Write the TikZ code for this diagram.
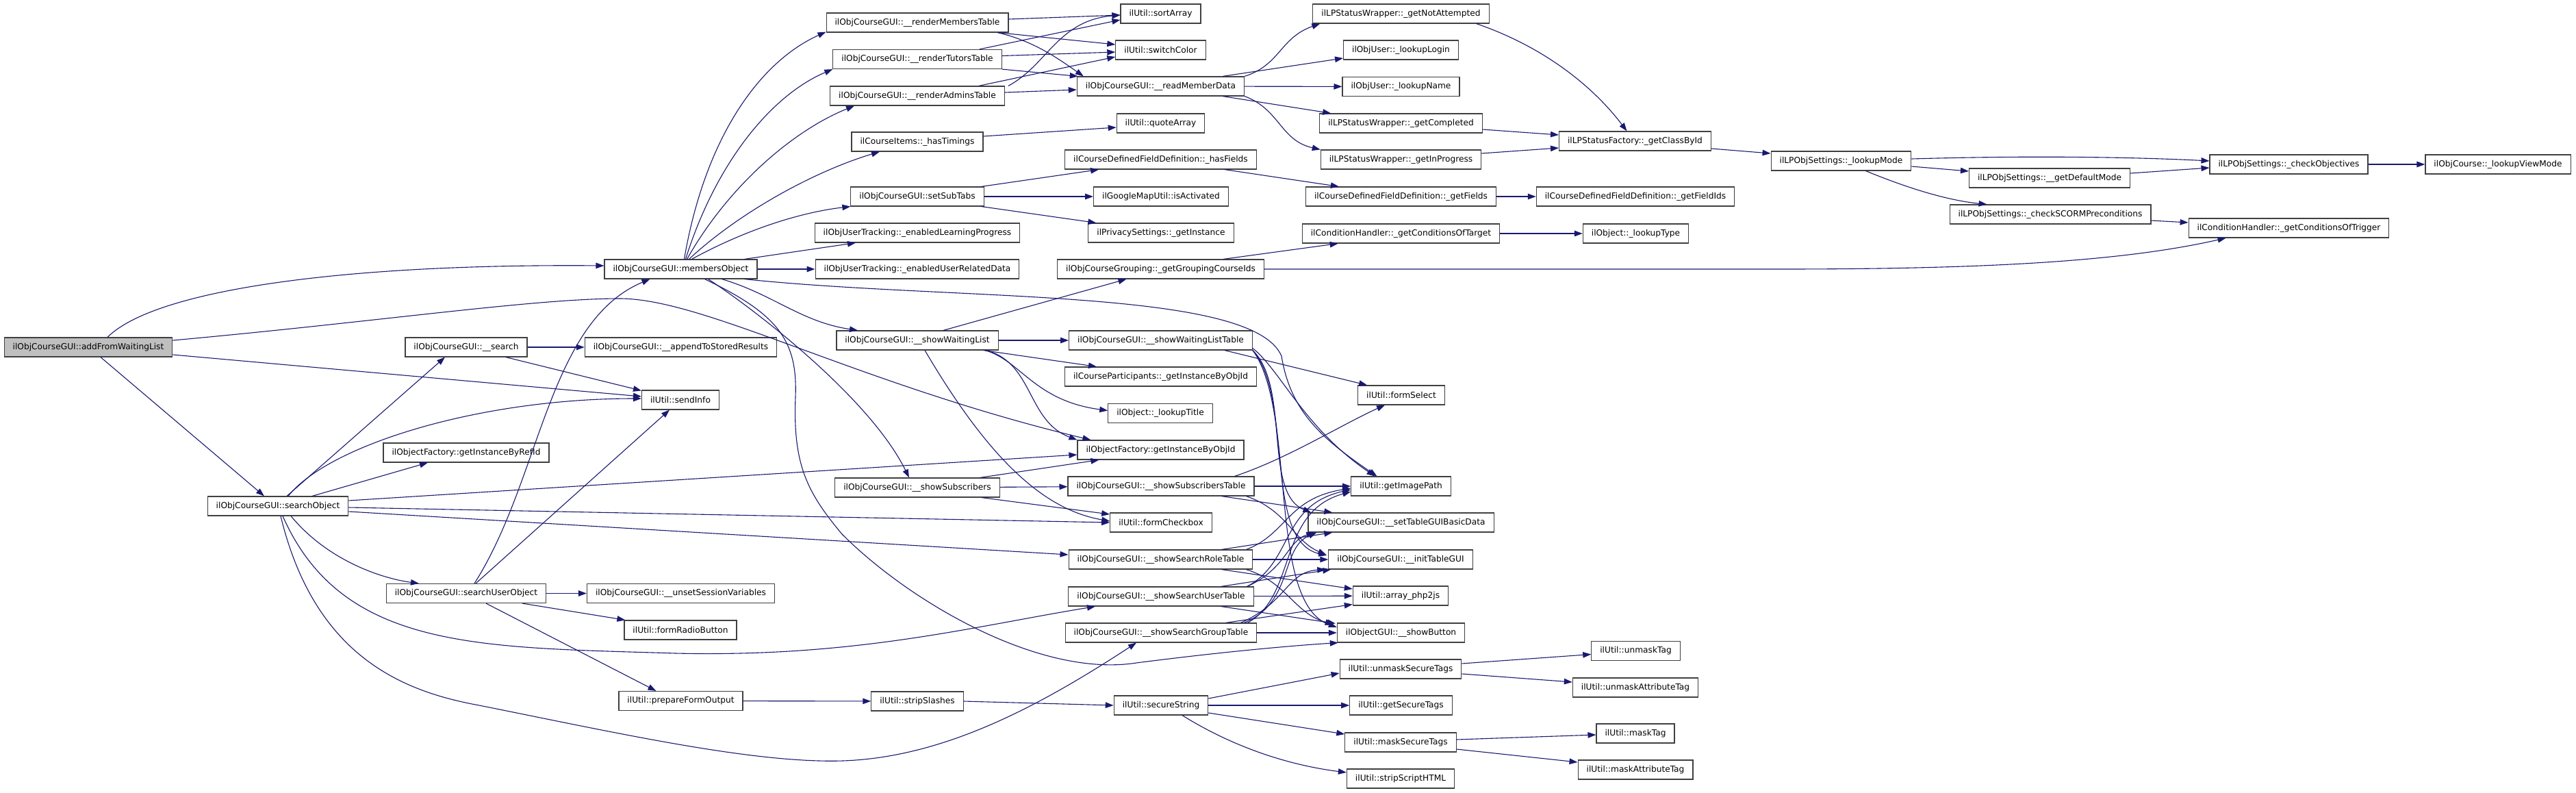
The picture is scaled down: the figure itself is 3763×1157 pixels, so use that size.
\documentclass[tikz,border=0pt]{standalone}
\usepackage{fontspec}
\newfontfamily\dvs{DejaVu Sans}
\usetikzlibrary{arrows.meta,calc}
\definecolor{edgecol}{HTML}{191970}
\definecolor{boxline}{HTML}{404040}
\tikzset{
  fn/.style={draw=boxline, line width=1.15pt, fill=white, font=\dvs\fontsize{12.2}{14}\selectfont,
    inner xsep=12.5pt, inner ysep=0pt, minimum height=28pt, anchor=center},
  root/.style={fn, fill=black!25},
  cg/.style={draw=edgecol, line width=1.1pt, -{Triangle[length=12pt,width=8.5pt]}}
}
\begin{document}
\begin{tikzpicture}[x=1pt,y=-1pt]
\useasboundingbox (0,0) rectangle (3763,1157);
% column 0-3
\node[root] (A0) at (129,507) {ilObjCourseGUI::addFromWaitingList};
\node[fn] (sO) at (406,739) {ilObjCourseGUI::searchObject};
\node[fn] (srch) at (681,507) {ilObjCourseGUI::\_\_search};
\node[fn] (gIBR) at (681,661) {ilObjectFactory::getInstanceByRefId};
\node[fn] (sUO) at (681,866.5) {ilObjCourseGUI::searchUserObject};
\node[fn] (mO) at (994.5,393) {ilObjCourseGUI::membersObject};
\node[fn] (aTSR) at (994.5,507) {ilObjCourseGUI::\_\_appendToStoredResults};
\node[fn] (sI) at (994,584) {ilUtil::sendInfo};
\node[fn] (uSV) at (994.5,866.5) {ilObjCourseGUI::\_\_unsetSessionVariables};
\node[fn] (fRB) at (994,920) {ilUtil::formRadioButton};
\node[fn] (pFO) at (994.5,1023.5) {ilUtil::prepareFormOutput};
% column 4
\node[fn] (rMT) at (1340,33) {ilObjCourseGUI::\_\_renderMembersTable};
\node[fn] (rTT) at (1340,86.5) {ilObjCourseGUI::\_\_renderTutorsTable};
\node[fn] (rAT) at (1340,140) {ilObjCourseGUI::\_\_renderAdminsTable};
\node[fn] (hT) at (1340,207) {ilCourseItems::\_hasTimings};
\node[fn] (sSTb) at (1340,287) {ilObjCourseGUI::setSubTabs};
\node[fn] (eLP) at (1340,340) {ilObjUserTracking::\_enabledLearningProgress};
\node[fn] (eURD) at (1340,393) {ilObjUserTracking::\_enabledUserRelatedData};
\node[fn] (sWL) at (1340,497) {ilObjCourseGUI::\_\_showWaitingList};
\node[fn] (sS) at (1340,712) {ilObjCourseGUI::\_\_showSubscribers};
\node[fn] (sSl) at (1340,1024) {ilUtil::stripSlashes};
% column 5
\node[fn] (sA) at (1695.5,20) {ilUtil::sortArray};
\node[fn] (sC) at (1695.5,73) {ilUtil::switchColor};
\node[fn] (rMD) at (1695.5,126) {ilObjCourseGUI::\_\_readMemberData};
\node[fn] (qA) at (1695.5,180) {ilUtil::quoteArray};
\node[fn] (hF) at (1695.5,233) {ilCourseDefinedFieldDefinition::\_hasFields};
\node[fn] (iA) at (1696,287) {ilGoogleMapUtil::isActivated};
\node[fn] (gI) at (1696,340) {ilPrivacySettings::\_getInstance};
\node[fn] (gGCI) at (1695.5,393) {ilObjCourseGrouping::\_getGroupingCourseIds};
\node[fn] (sWLT) at (1695.5,497) {ilObjCourseGUI::\_\_showWaitingListTable};
\node[fn] (cPgI) at (1695.5,550) {ilCourseParticipants::\_getInstanceByObjId};
\node[fn] (lT) at (1695,603.5) {ilObject::\_lookupTitle};
\node[fn] (gIBO) at (1695.5,657) {ilObjectFactory::getInstanceByObjId};
\node[fn] (sSbT) at (1696,710) {ilObjCourseGUI::\_\_showSubscribersTable};
\node[fn] (fC) at (1696,763) {ilUtil::formCheckbox};
\node[fn] (sRT) at (1695.5,817) {ilObjCourseGUI::\_\_showSearchRoleTable};
\node[fn] (sUT) at (1696,871) {ilObjCourseGUI::\_\_showSearchUserTable};
\node[fn] (sGT) at (1696,924) {ilObjCourseGUI::\_\_showSearchGroupTable};
\node[fn] (sStr) at (1696,1030) {ilUtil::secureString};
% column 6
\node[fn] (gNA) at (2046.5,20) {ilLPStatusWrapper::\_getNotAttempted};
\node[fn] (lL) at (2046.5,73) {ilObjUser::\_lookupLogin};
\node[fn] (lN) at (2046.5,126.5) {ilObjUser::\_lookupName};
\node[fn] (gC) at (2046.5,180) {ilLPStatusWrapper::\_getCompleted};
\node[fn] (gIP) at (2046.5,233) {ilLPStatusWrapper::\_getInProgress};
\node[fn] (gF) at (2046.5,287) {ilCourseDefinedFieldDefinition::\_getFields};
\node[fn] (cOTa) at (2046.5,341) {ilConditionHandler::\_getConditionsOfTarget};
\node[fn] (fS) at (2047,577) {ilUtil::formSelect};
\node[fn] (gImg) at (2046.5,710) {ilUtil::getImagePath};
\node[fn] (sTGBD) at (2046.5,763) {ilObjCourseGUI::\_\_setTableGUIBasicData};
\node[fn] (iTG) at (2046,817) {ilObjCourseGUI::\_\_initTableGUI};
\node[fn] (aPJ) at (2046,870) {ilUtil::array\_php2js};
\node[fn] (sB) at (2046.5,924) {ilObjectGUI::\_\_showButton};
\node[fn] (uST) at (2046,977) {ilUtil::unmaskSecureTags};
\node[fn] (gST) at (2046.5,1030) {ilUtil::getSecureTags};
\node[fn] (mST) at (2046,1084) {ilUtil::maskSecureTags};
\node[fn] (sSH) at (2046,1137) {ilUtil::stripScriptHTML};
% column 7+
\node[fn] (gCBI) at (2388.5,206) {ilLPStatusFactory::\_getClassById};
\node[fn] (gFI) at (2389,287) {ilCourseDefinedFieldDefinition::\_getFieldIds};
\node[fn] (lTy) at (2389.5,341) {ilObject::\_lookupType};
\node[fn] (uT) at (2389.5,950.5) {ilUtil::unmaskTag};
\node[fn] (uAT) at (2389,1004) {ilUtil::unmaskAttributeTag};
\node[fn] (mT) at (2389,1071) {ilUtil::maskTag};
\node[fn] (mAT) at (2389,1124) {ilUtil::maskAttributeTag};
\node[fn] (lM) at (2689.5,235) {ilLPObjSettings::\_lookupMode};
\node[fn] (gDM) at (2994,260) {ilLPObjSettings::\_\_getDefaultMode};
\node[fn] (cSP) at (2995,313) {ilLPObjSettings::\_checkSCORMPreconditions};
\node[fn] (cO) at (3343.5,240) {ilLPObjSettings::\_checkObjectives};
\node[fn] (cOTr) at (3343.5,333) {ilConditionHandler::\_getConditionsOfTrigger};
\node[fn] (lVM) at (3649,240) {ilObjCourse::\_lookupViewMode};

% ---- edges: addFromWaitingList
\draw[cg] ($(A0.north)+(28,0)$) .. controls (230,420) and (520,385) .. ($(mO.west)+(0,-5)$);
\draw[cg] ($(A0.east)+(0,-10)$) .. controls (550,470) and (780,436) .. (905,436) .. controls (1030,436) and (1250,560) .. ($(gIBO.north west)+(20,0)$);
\draw[cg] (A0) -- (sI);
\draw[cg] ($(A0.south)+(18,0)$) -- ($(sO.north)+(-20,0)$);
% searchObject
\draw[cg] ($(sO.north)+(13,0)$) -- ($(srch.south)+(-31,0)$);
\draw[cg] ($(sO.north)+(15,0)$) .. controls (480,650) and (700,582) .. ($(sI.west)+(0,-2)$);
\draw[cg] ($(sO.north)+(50,0)$) -- ($(gIBR.south)+(-56,0)$);
\draw[cg] ($(sO.east)+(0,-8)$) -- ($(gIBO.west)+(0,7)$);
\draw[cg] ($(sO.east)+(0,2)$) -- (fC.west);
\draw[cg] ($(sO.east)+(0,8)$) -- ($(sRT.west)+(0,-7)$);
\draw[cg] ($(sO.south)+(19,0)$) .. controls (480,820) and (560,845) .. ($(sUO.north)+(-69,0)$);
\draw[cg] ($(sO.south)+(7,0)$) .. controls (500,950) and (700,945) .. (987,954) .. controls (1250,960) and (1420,915) .. ($(sUT.south)+(-96,0)$);
\draw[cg] ($(sO.south)+(4,0)$) .. controls (460,960) and (590,1010) .. (700,1030) .. controls (900,1070) and (1100,1115) .. (1231,1111) .. controls (1380,1106) and (1520,1030) .. ($(sGT.south)+(-36,0)$);
% searchUserObject
\draw[cg] ($(sUO.north)+(12,0)$) .. controls (790,700) and (800,470) .. ($(mO.south)+(-45,0)$);
\draw[cg] ($(sUO.north)+(14,0)$) -- ($(sI.south)+(-16,0)$);
\draw[cg] (sUO) -- (uSV);
\draw[cg] ($(sUO.south)+(82,0)$) -- ($(fRB.north west)+(2,0)$);
\draw[cg] ($(sUO.south)+(29,0)$) -- ($(pFO.north)+(-36,0)$);
% __search
\draw[cg] (srch) -- (aTSR);
\draw[cg] ($(srch.south)+(58,0)$) -- ($(sI.north west)+(0,1)$);
% membersObject
\draw[cg] ($(mO.north)+(5,0)$) .. controls (1030,200) and (1110,90) .. ($(rMT.south west)+(0,-1)$);
\draw[cg] ($(mO.north)+(7,0)$) .. controls (1045,240) and (1125,140) .. (rTT.south west);
\draw[cg] ($(mO.north)+(9,0)$) .. controls (1065,270) and (1160,190) .. ($(rAT.south)+(-92,0)$);
\draw[cg] ($(mO.north)+(12,0)$) .. controls (1080,310) and (1190,250) .. ($(hT.south)+(-55,0)$);
\draw[cg] ($(mO.north)+(16,0)$) .. controls (1090,335) and (1170,310) .. (sSTb.south west);
\draw[cg] ($(mO.north)+(93,0)$) -- ($(eLP.south)+(-90,0)$);
\draw[cg] (mO) -- (eURD);
\draw[cg] ($(mO.south)+(60,0)$) .. controls (1130,430) and (1170,470) .. ($(sWL.north)+(-87,0)$);
\draw[cg] ($(mO.south)+(40,0)$) .. controls (1100,450) and (1270,580) .. ($(sS.north)+(-12,0)$);
\draw[cg] ($(mO.south)+(93,0)$) .. controls (1400,440) and (1830,420) .. (1872,520) .. controls (1885,600) and (1930,640) .. ($(gImg.north)+(-35,0)$);
\draw[cg] ($(mO.south)+(35,0)$) .. controls (1140,460) and (1165,500) .. (1162,580) .. controls (1158,680) and (1180,720) .. (1230,780) .. controls (1330,880) and (1520,990) .. (1660,968) .. controls (1800,950) and (1900,942) .. ($(sB.south west)+(2,0)$);
% __showWaitingList
\draw[cg] ($(sWL.north)+(38,0)$) -- ($(gGCI.south)+(-50,0)$);
\draw[cg] (sWL) -- (sWLT);
\draw[cg] ($(sWL.south east)+(-22,0)$) -- ($(cPgI.north west)+(47,0)$);
\draw[cg] ($(sWL.south east)+(-20,0)$) .. controls (1490,525) and (1510,585) .. ($(lT.west)+(0,-4)$);
\draw[cg] ($(sWL.south east)+(-18,0)$) .. controls (1510,530) and (1500,615) .. (gIBO.north west);
\draw[cg] ($(sWL.south)+(11,0)$) .. controls (1450,680) and (1530,745) .. ($(fC.west)+(0,-2)$);
% __showSubscribers
\draw[cg] (sS) -- (sSbT);
\draw[cg] ($(sS.south east)+(-27,0)$) -- ($(fC.west)+(0,-12)$);
\draw[cg] ($(sS.north east)+(-29,0)$) -- ($(gIBO.south west)+(32,0)$);
% __showWaitingListTable
\draw[cg] ($(sWLT.south east)+(-41,0)$) -- ($(fS.north west)+(14,0)$);
\draw[cg] ($(sWLT.south east)+(0,-3)$) .. controls (1870,540) and (1905,625) .. ($(gImg.north)+(-38,0)$);
\draw[cg] (sWLT.south east) .. controls (1885,565) and (1845,720) .. ($(sTGBD.north west)+(5,0)$);
\draw[cg] (sWLT.south east) .. controls (1890,580) and (1845,790) .. ($(iTG.west)+(-2,-6)$);
\draw[cg] (sWLT.south east) .. controls (1895,600) and (1850,880) .. ($(sB.west)+(0,-8)$);
% __showSubscribersTable
\draw[cg] ($(sSbT.north east)+(-29,0)$) .. controls (1880,670) and (1960,620) .. ($(fS.south)+(-24,0)$);
\draw[cg] (sSbT) -- (gImg);
\draw[cg] ($(sSbT.south east)+(-48,0)$) -- ($(sTGBD.north west)+(36,0)$);
\draw[cg] ($(sSbT.south east)+(-12,0)$) .. controls (1880,745) and (1890,790) .. ($(iTG.west)+(-3,-7)$);
% __showSearchRoleTable
\draw[cg] ($(sRT.north east)+(-10,0)$) .. controls (1880,780) and (1880,728) .. ($(gImg.west)+(0,3)$);
\draw[cg] ($(sRT.north east)+(-46,0)$) -- ($(sTGBD.south west)+(36,0)$);
\draw[cg] (sRT) -- (iTG);
\draw[cg] ($(sRT.south east)+(-46,0)$) -- ($(aPJ.west)+(0,-10)$);
\draw[cg] ($(sRT.south east)+(-10,0)$) .. controls (1880,850) and (1890,895) .. ($(sB.west)+(-5,-12)$);
% __showSearchUserTable
\draw[cg] ($(sUT.north east)+(-10,0)$) .. controls (1890,820) and (1870,738) .. ($(gImg.west)+(0,5)$);
\draw[cg] ($(sUT.north east)+(-10,0)$) .. controls (1880,830) and (1880,790) .. ($(sTGBD.south west)+(10,0)$);
\draw[cg] ($(sUT.north east)+(-48,0)$) -- ($(iTG.south west)+(4,0)$);
\draw[cg] (sUT) -- (aPJ);
\draw[cg] ($(sUT.south east)+(-48,0)$) -- ($(sB.north west)+(-2,1)$);
% __showSearchGroupTable
\draw[cg] ($(sGT.north east)+(-14,0)$) .. controls (1895,870) and (1865,748) .. ($(gImg.west)+(0,8)$);
\draw[cg] ($(sGT.north east)+(-19,0)$) .. controls (1890,880) and (1870,800) .. ($(sTGBD.south west)+(13,0)$);
\draw[cg] ($(sGT.north east)+(-24,0)$) .. controls (1880,880) and (1880,835) .. ($(iTG.south west)+(-4,0)$);
\draw[cg] ($(sGT.north east)+(-46,0)$) -- ($(aPJ.south west)+(0,-2)$);
\draw[cg] (sGT) -- (sB);
% render tables
\draw[cg] ($(rMT.east)+(0,-5)$) -- ($(sA.west)+(0,2)$);
\draw[cg] ($(rMT.south east)+(-16,0)$) -- ($(sC.west)+(0,-8)$);
\draw[cg] ($(rMT.south east)+(-16,0)$) .. controls (1510,60) and (1545,85) .. ($(rMD.north west)+(10,0)$);
\draw[cg] ($(rTT.north east)+(-33,0)$) -- ($(sA.west)+(0,9)$);
\draw[cg] ($(rTT.east)+(0,-5)$) -- ($(sC.west)+(0,3)$);
\draw[cg] (rTT.south east) -- ($(rMD.north west)+(2,0)$);
\draw[cg] ($(rAT.north east)+(5,0)$) .. controls (1530,95) and (1545,30) .. ($(sA.west)+(0,2)$);
\draw[cg] ($(rAT.north east)+(-38,0)$) -- ($(sC.west)+(0,10)$);
\draw[cg] ($(rAT.east)+(0,-5)$) -- ($(rMD.west)+(0,5)$);
% __readMemberData
\draw[cg] (rMD.north east) .. controls (1870,95) and (1870,55) .. ($(gNA.south west)+(11,0)$);
\draw[cg] ($(rMD.north east)+(-32,0)$) -- ($(lL.west)+(0,12)$);
\draw[cg] (rMD) -- (lN);
\draw[cg] ($(rMD.south east)+(-32,0)$) -- ($(gC.north west)+(17,0)$);
\draw[cg] (rMD.south east) .. controls (1870,160) and (1870,205) .. (gIP.north west);
% misc column 4/5
\draw[cg] ($(hT.east)+(0,-8)$) -- ($(qA.west)+(0,6)$);
\draw[cg] ($(sSTb.north east)+(-4,0)$) -- ($(hF.south west)+(50,0)$);
\draw[cg] (sSTb) -- (iA);
\draw[cg] ($(sSTb.south east)+(-4,0)$) -- ($(gI.north west)+(12,0)$);
\draw[cg] ($(hF.south east)+(-47,0)$) -- ($(gF.north west)+(49,0)$);
\draw[cg] (gF) -- (gFI);
\draw[cg] ($(gGCI.north east)+(-60,0)$) -- ($(cOTa.south west)+(53,0)$);
\draw[cg] (gGCI.east) -- (2600,393) .. controls (2900,393) and (3100,382) .. ($(cOTr.south west)+(55,0)$);
\draw[cg] (cOTa) -- (lTy);
% LP status
\draw[cg] ($(gNA.south east)+(-19,0)$) .. controls (2260,70) and (2330,130) .. ($(gCBI.north)+(-12,0)$);
\draw[cg] ($(gC.east)+(0,9)$) -- ($(gCBI.west)+(0,-9)$);
\draw[cg] ($(gIP.east)+(0,-9)$) -- ($(gCBI.west)+(0,10)$);
\draw[cg] ($(gCBI.east)+(0,11)$) -- ($(lM.west)+(0,-11)$);
\draw[cg] ($(lM.east)+(0,-3)$) .. controls (3000,226) and (3150,231) .. ($(cO.west)+(0,-5)$);
\draw[cg] ($(lM.east)+(0,8)$) -- ($(gDM.west)+(0,-10)$);
\draw[cg] ($(lM.south)+(36,0)$) .. controls (2780,272) and (2840,292) .. ($(cSP.north west)+(55,0)$);
\draw[cg] ($(gDM.east)+(0,-7)$) -- ($(cO.west)+(0,5)$);
\draw[cg] (cO) -- (lVM);
\draw[cg] ($(cSP.east)+(0,9)$) -- ($(cOTr.west)+(0,-8)$);
% bottom chain
\draw[cg] (pFO) -- (sSl);
\draw[cg] (sSl.east) -- (sStr.west);
\draw[cg] ($(sStr.east)+(0,-10)$) -- ($(uST.west)+(0,6)$);
\draw[cg] (sStr) -- (gST);
\draw[cg] ($(sStr.east)+(0,11)$) -- ($(mST.west)+(0,-12)$);
\draw[cg] ($(sStr.south)+(31,0)$) .. controls (1800,1090) and (1880,1117) .. ($(sSH.west)+(0,-9)$);
\draw[cg] ($(uST.east)+(0,-8)$) -- ($(uT.west)+(0,5)$);
\draw[cg] ($(uST.east)+(0,7)$) -- ($(uAT.west)+(0,-8)$);
\draw[cg] ($(mST.east)+(0,-4)$) -- ($(mT.west)+(0,2)$);
\draw[cg] ($(mST.east)+(0,10)$) -- ($(mAT.west)+(0,-11)$);
\end{tikzpicture}
\end{document}
